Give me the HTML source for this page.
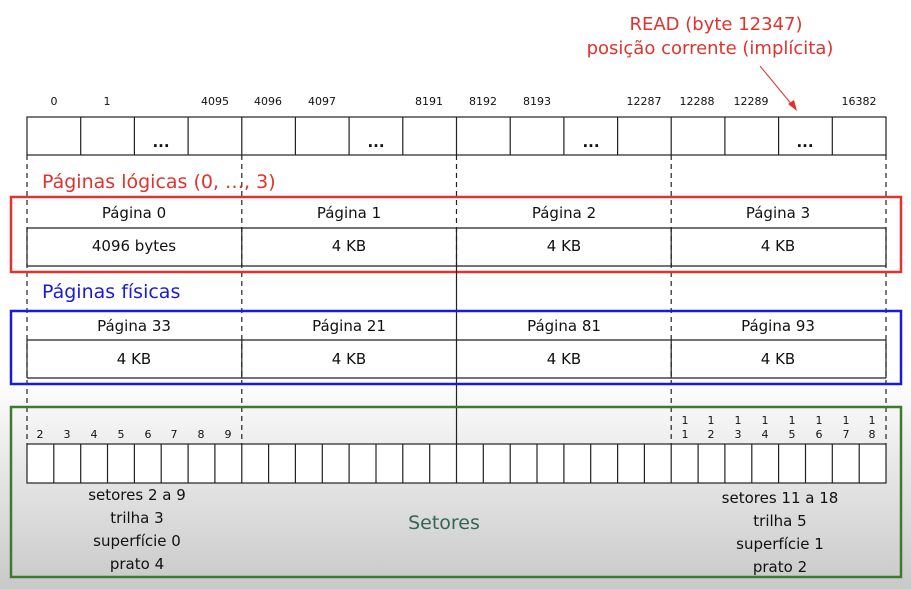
<!DOCTYPE html>
<html><head><meta charset="utf-8"><style>
html,body{margin:0;padding:0;width:911px;height:589px;overflow:hidden;background:#fff}
svg{display:block}
text{font-family:"DejaVu Sans","Liberation Sans",sans-serif}
</style></head><body>
<svg width="911" height="589" viewBox="0 0 911 589" xmlns="http://www.w3.org/2000/svg">
<defs>
<linearGradient id="bg" x1="0" y1="0" x2="0" y2="1">
<stop offset="0" stop-color="#ffffff"/>
<stop offset="0.64" stop-color="#ffffff"/>
<stop offset="0.8" stop-color="#e6e6e6"/>
<stop offset="1" stop-color="#c9c9c9"/>
</linearGradient>
</defs>
<rect x="0" y="0" width="911" height="589" fill="url(#bg)"/>

<text x="716" y="30" font-size="18" fill="#e0332d" text-anchor="middle">READ (byte 12347)</text>
<text x="710" y="54" font-size="18" fill="#e0332d" text-anchor="middle">posição corrente (implícita)</text>
<line x1="760" y1="66" x2="793" y2="106" stroke="#e0332d" stroke-width="1"/>
<polygon points="797,111 788,104 794,100" fill="#e0332d"/>

<g font-size="11" fill="#111" text-anchor="middle">
<text x="54" y="105">0</text><text x="107" y="105">1</text><text x="215" y="105">4095</text>
<text x="268" y="105">4096</text><text x="322" y="105">4097</text><text x="429" y="105">8191</text>
<text x="483" y="105">8192</text><text x="537" y="105">8193</text><text x="644" y="105">12287</text>
<text x="697" y="105">12288</text><text x="751" y="105">12289</text><text x="859" y="105">16382</text>
</g>
<g stroke="#222" stroke-width="1.2" fill="none">
<rect x="27" y="117" width="859" height="38"/>
<path d="M80.7 117V155M134.4 117V155M188.1 117V155M241.8 117V155M295.4 117V155M349.1 117V155M402.8 117V155M456.5 117V155M510.2 117V155M563.9 117V155M617.6 117V155M671.2 117V155M724.9 117V155M778.6 117V155M832.3 117V155"/>
</g>
<g font-size="15" font-weight="bold" fill="#111" text-anchor="middle">
<text x="161" y="147">...</text><text x="376" y="147">...</text><text x="591" y="147">...</text><text x="805" y="147">...</text>
</g>

<g stroke="#222" stroke-width="1.2" stroke-dasharray="5,4">
<path d="M27 155V444M241.8 155V444M671.2 155V444M886 155V444M456.5 155V265"/>
</g>

<text x="42" y="188" font-size="19" fill="#e0332d">Páginas lógicas (0, …, 3)</text>
<g stroke="#222" stroke-width="1.2" fill="none">
<path d="M27 228H886M27 266H886M27 228V266M241.8 228V266M456.5 228V266M671.2 228V266M886 228V266"/>
</g>
<rect x="11" y="197" width="890" height="75" fill="none" stroke="#e0332d" stroke-width="2.5"/>
<g font-size="15" fill="#111" text-anchor="middle">
<text x="134" y="218">Página 0</text><text x="349" y="218">Página 1</text><text x="564" y="218">Página 2</text><text x="778" y="218">Página 3</text>
<text x="134" y="251">4096 bytes</text><text x="349" y="251">4 KB</text><text x="564" y="251">4 KB</text><text x="778" y="251">4 KB</text>
</g>

<text x="42" y="298" font-size="19" fill="#1a1adc">Páginas físicas</text>
<g stroke="#222" stroke-width="1.2" fill="none">
<path d="M27 340H886M27 378H886M27 340V378M241.8 340V378M671.2 340V378M886 340V378M456.5 265V444"/>
</g>
<rect x="11" y="311" width="890" height="73" fill="none" stroke="#1a1adc" stroke-width="2.5"/>
<g font-size="15" fill="#111" text-anchor="middle">
<text x="134" y="331">Página 33</text><text x="349" y="331">Página 21</text><text x="564" y="331">Página 81</text><text x="778" y="331">Página 93</text>
<text x="134" y="364">4 KB</text><text x="349" y="364">4 KB</text><text x="564" y="364">4 KB</text><text x="778" y="364">4 KB</text>
</g>

<rect x="11" y="407" width="890" height="170" fill="none" stroke="#3e7a2e" stroke-width="2.5"/>
<g font-size="11" fill="#111" text-anchor="middle">
<text x="40" y="438">2</text><text x="67" y="438">3</text><text x="94" y="438">4</text><text x="121" y="438">5</text>
<text x="148" y="438">6</text><text x="174" y="438">7</text><text x="201" y="438">8</text><text x="228" y="438">9</text>
<text x="685" y="424">1</text><text x="685" y="438">1</text>
<text x="711" y="424">1</text><text x="711" y="438">2</text>
<text x="738" y="424">1</text><text x="738" y="438">3</text>
<text x="765" y="424">1</text><text x="765" y="438">4</text>
<text x="792" y="424">1</text><text x="792" y="438">5</text>
<text x="819" y="424">1</text><text x="819" y="438">6</text>
<text x="846" y="424">1</text><text x="846" y="438">7</text>
<text x="872" y="424">1</text><text x="872" y="438">8</text>
</g>
<g stroke="#222" stroke-width="1.2" fill="#fff">
<rect x="27" y="444" width="859" height="39"/>
</g>
<g stroke="#222" stroke-width="1.2">
<path d="M53.8 444V483M80.7 444V483M107.5 444V483M134.4 444V483M161.2 444V483M188.1 444V483M214.9 444V483M241.8 444V483M268.6 444V483M295.4 444V483M322.3 444V483M349.1 444V483M376 444V483M402.8 444V483M429.7 444V483M456.5 444V483M483.3 444V483M510.2 444V483M537 444V483M563.9 444V483M590.7 444V483M617.6 444V483M644.4 444V483M671.2 444V483M698.1 444V483M724.9 444V483M751.8 444V483M778.6 444V483M805.5 444V483M832.3 444V483M859.2 444V483"/>
</g>
<g font-size="15" fill="#111" text-anchor="middle">
<text x="137" y="500">setores 2 a 9</text><text x="137" y="523">trilha 3</text>
<text x="137" y="546">superfície 0</text><text x="137" y="569">prato 4</text>
<text x="780" y="503">setores 11 a 18</text><text x="780" y="526">trilha 5</text>
<text x="780" y="549">superfície 1</text><text x="780" y="572">prato 2</text>
</g>
<text x="444" y="529" font-size="19" fill="#336655" text-anchor="middle">Setores</text>
</svg>
</body></html>
